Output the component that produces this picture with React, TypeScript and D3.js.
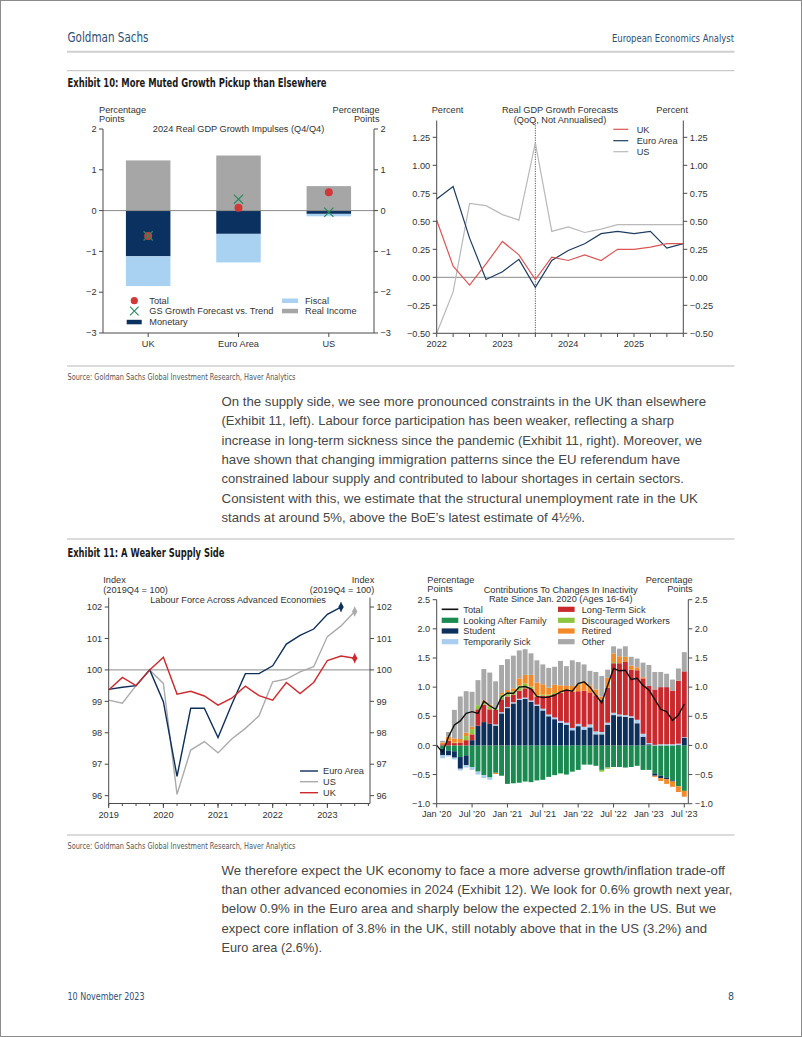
import React from 'react';
import * as d3 from 'd3';

const CHART_FONT = "'Liberation Sans', Arial, Helvetica, sans-serif";
const COND_FONT = "'Liberation Sans Narrow', 'DejaVu Sans Condensed', 'Liberation Sans', sans-serif";
const GS_BLUE = '#2f4f75';
const AXIS = '#4a4a4a';
const TXT = '#333';
const FS = 9.2;

// ---------------- Exhibit 10 (left): 2024 growth impulses ----------------
const impulseCountries = ['UK', 'Euro Area', 'US'];
const impulseRealIncome = [1.23, 1.35, 0.6];
const impulseMonetary = [-1.12, -0.57, -0.08];
const impulseFiscal = [-0.73, -0.7, -0.06];
const impulseTotal = [-0.62, 0.07, 0.45];
const impulseGsVsTrend = [-0.62, 0.28, -0.04];
const impulseTicks = [-3, -2, -1, 0, 1, 2];

// ---------------- Exhibit 10 (right): QoQ GDP forecasts ----------------
const gdpQuarters = ['2022Q1', '2022Q2', '2022Q3', '2022Q4', '2023Q1', '2023Q2', '2023Q3', '2023Q4',
  '2024Q1', '2024Q2', '2024Q3', '2024Q4', '2025Q1', '2025Q2', '2025Q3', '2025Q4'];
const gdpUK = [0.51, 0.10, -0.07, 0.12, 0.32, 0.20, -0.02, 0.18, 0.15, 0.20, 0.15, 0.25, 0.25, 0.27, 0.30, 0.30];
const gdpEA = [0.70, 0.81, 0.35, -0.02, 0.05, 0.16, -0.09, 0.15, 0.24, 0.30, 0.39, 0.41, 0.39, 0.41, 0.26, 0.30];
const gdpUS = [-0.50, -0.13, 0.66, 0.64, 0.56, 0.51, 1.20, 0.41, 0.45, 0.40, 0.43, 0.47, 0.47, 0.47, 0.47, 0.47];
const gdpTicks = [-0.5, -0.25, 0, 0.25, 0.5, 0.75, 1.0, 1.25];
const gdpYears = [2022, 2023, 2024, 2025];
const gdpForecastStart = '2023Q3';

// ---------------- Exhibit 11 (left): labour force ----------------
const lfQuarters = ['2019Q1', '2019Q2', '2019Q3', '2019Q4', '2020Q1', '2020Q2', '2020Q3', '2020Q4',
  '2021Q1', '2021Q2', '2021Q3', '2021Q4', '2022Q1', '2022Q2', '2022Q3', '2022Q4', '2023Q1', '2023Q2', '2023Q3'];
const lfEuroArea = [99.38, 99.45, 99.5, 100.0, 98.99, 96.61, 98.78, 98.78, 97.85, 98.9, 99.88, 99.88, 100.13, 100.82, 101.1, 101.3, 101.77, 102.0, null];
const lfUS = [99.04, 98.94, 99.5, 100.0, 99.57, 96.04, 97.45, 97.72, 97.36, 97.8, 98.14, 98.54, 99.62, 99.71, 99.94, 100.1, 101.06, 101.4, 101.86];
const lfUK = [99.36, 99.76, 99.5, 100.0, 100.4, 99.23, 99.32, 99.17, 98.88, 99.1, 99.48, 99.18, 99.04, 99.6, 99.25, 99.6, 100.3, 100.44, 100.37];
const lfTicks = [96, 97, 98, 99, 100, 101, 102];
const lfYears = [2019, 2020, 2021, 2022, 2023];

// ---------------- Exhibit 11 (right): inactivity contributions ----------------
const inactMonths = d3.timeMonths(new Date(2020, 0, 1), new Date(2023, 7, 1));
const inactFamily = [0, -0.06, -0.09, -0.1, -0.2, -0.17, -0.37, -0.45, -0.51, -0.55, -0.47, -0.52, -0.66, -0.65, -0.64, -0.62, -0.63, -0.6, -0.59, -0.54, -0.51, -0.48, -0.5, -0.45, -0.42, -0.33, -0.33, -0.35, -0.42, -0.38, -0.37, -0.37, -0.38, -0.37, -0.35, -0.42, -0.42, -0.48, -0.52, -0.55, -0.6, -0.7, -0.78];
const inactStudent = [0, -0.11, -0.08, -0.11, -0.2, -0.17, 0.09, 0.34, 0.40, 0.37, 0.34, 0.55, 0.64, 0.72, 0.78, 0.80, 0.75, 0.68, 0.60, 0.50, 0.45, 0.39, 0.35, 0.26, 0.33, 0.27, 0.31, 0.19, 0.19, 0.35, 0.52, 0.50, 0.49, 0.47, 0.38, 0.15, 0.02, -0.04, -0.04, -0.03, -0.02, 0.01, 0.13];
const inactTempSick = [0, -0.05, -0.02, -0.03, -0.03, -0.04, -0.05, -0.05, -0.05, -0.04, 0.02, 0.02, 0.02, 0.02, 0.02, 0.02, 0.02, 0.02, 0.03, 0.03, 0.03, 0.03, 0.04, 0.04, 0.04, 0.05, 0.05, 0.05, 0.04, 0.04, 0.04, 0.03, 0.03, 0.03, 0.06, 0.05, 0.02, 0.01, 0.02, 0.02, 0.02, 0.02, 0.01];
const inactLongTermSick = [0, 0.02, 0.08, 0.04, 0.05, 0.09, 0.10, 0.28, 0.30, 0.25, 0.25, 0.22, 0.18, 0.13, 0.14, 0.16, 0.20, 0.14, 0.22, 0.32, 0.40, 0.48, 0.55, 0.62, 0.56, 0.62, 0.55, 0.62, 0.55, 0.60, 0.85, 0.88, 0.92, 0.80, 0.85, 0.95, 0.98, 0.95, 0.98, 0.98, 0.92, 1.08, 1.13];
const inactDiscouraged = [0, 0, 0, 0.01, 0, 0.07, 0.09, 0.07, 0.03, 0.05, 0.02, 0.08, 0.07, 0.06, 0.09, 0.08, 0.04, 0.02, 0.02, 0.02, 0.02, 0.01, 0, 0, 0, 0, 0, 0, -0.03, -0.02, 0.02, 0, 0, 0, 0, 0, 0, 0, 0, 0, 0, 0, 0];
const inactRetired = [0, 0.03, 0.07, 0.07, 0.06, 0.06, 0.04, 0, 0.04, 0.03, -0.02, 0.03, 0.04, 0.05, 0.12, 0.15, 0.20, 0.22, 0.18, 0.12, 0.14, 0.12, 0.08, 0.10, 0.12, 0.15, 0.12, 0.10, 0.06, 0.17, 0.15, 0.12, 0.08, 0.07, 0.05, 0.02, 0, -0.02, -0.05, -0.08, -0.09, -0.1, -0.1];
const inactOther = [0, 0.03, 0.08, 0.49, 0.73, 0.71, 0.6, 0.43, 0.54, 0.55, 0.47, 0.48, 0.53, 0.56, 0.48, 0.44, 0.37, 0.38, 0.34, 0.34, 0.31, 0.42, 0.34, 0.44, 0.38, 0.30, 0.25, 0.30, 0.35, 0.14, 0.12, 0.13, 0.18, 0.15, 0.15, 0.25, 0.36, 0.30, 0.26, 0.23, 0.19, 0.21, 0.33];
const inactTotal = [0, -0.12, 0.15, 0.35, 0.42, 0.55, 0.58, 0.55, 0.76, 0.68, 0.62, 0.83, 0.90, 0.89, 1.00, 1.01, 0.97, 0.84, 0.82, 0.83, 0.86, 0.92, 0.95, 0.93, 1.06, 1.09, 1.00, 0.86, 0.73, 1.03, 1.32, 1.28, 1.29, 1.13, 1.15, 1.03, 0.95, 0.79, 0.62, 0.58, 0.43, 0.52, 0.71];
const inactTicks = [-1.0, -0.5, 0, 0.5, 1.0, 1.5, 2.0, 2.5];
const inactTickLabels = ['Jan \u201920', 'Jul \u201920', 'Jan \u201921', 'Jul \u201921', 'Jan \u201922', 'Jul \u201922', 'Jan \u201923', 'Jul \u201923'];

// ---------------- Page text ----------------
const para1 = [
  'On the supply side, we see more pronounced constraints in the UK than elsewhere',
  '(Exhibit 11, left). Labour force participation has been weaker, reflecting a sharp',
  'increase in long-term sickness since the pandemic (Exhibit 11, right). Moreover, we',
  'have shown that changing immigration patterns since the EU referendum have',
  'constrained labour supply and contributed to labour shortages in certain sectors.',
  'Consistent with this, we estimate that the structural unemployment rate in the UK',
  'stands at around 5%, above the BoE\u2019s latest estimate of 4\u00bd%.',
];
const para1Ends = [706, 674, 702, 680, 684, 698, 585];
const para2 = [
  'We therefore expect the UK economy to face a more adverse growth/inflation trade-off',
  'than other advanced economies in 2024 (Exhibit 12). We look for 0.6% growth next year,',
  'below 0.9% in the Euro area and sharply below the expected 2.1% in the US. But we',
  'expect core inflation of 3.8% in the UK, still notably above that in the US (3.2%) and',
  'Euro area (2.6%).',
];
const para2Ends = [725, 732.5, 716, 707, 322];
const sourceText = 'Source: Goldman Sachs Global Investment Research, Haver Analytics';

const qToYear = (q: string) => +q.slice(0, 4) + (+q.slice(5) - 1) / 4;

function YAxis({ y, ticks, x, side, fmt, y0, y1 }: any) {
  const dir = side === 'left' ? -1 : 1;
  return (
    <g>
      <line x1={x} x2={x} y1={y0} y2={y1} stroke={AXIS} strokeWidth={1} />
      {ticks.map((t: number) => (
        <g key={t}>
          <line x1={x} x2={x + dir * 4} y1={y(t)} y2={y(t)} stroke={AXIS} />
          <text x={x + dir * 6.5} y={y(t)} dy="0.35em" textAnchor={side === 'left' ? 'end' : 'start'}
            fontSize={FS} fill={TXT}>{fmt(t)}</text>
        </g>
      ))}
    </g>
  );
}

function Ex10Left() {
  const x = d3.scalePoint<string>().domain(impulseCountries).range([103, 374]).padding(0.5);
  const y = d3.scaleLinear().domain([-3, 2]).range([333, 129]);
  const bw = 44.5;
  const rows = impulseCountries.map((c, i) => ({
    country: c, realIncome: impulseRealIncome[i], monetary: impulseMonetary[i], fiscal: impulseFiscal[i],
  }));
  const keys = ['realIncome', 'monetary', 'fiscal'];
  const colors: any = { realIncome: '#a6a6a6', monetary: '#0b3161', fiscal: '#a9d1f1' };
  const stack = d3.stack<any>().keys(keys).offset(d3.stackOffsetDiverging)(rows);
  const fmt = d3.format('d');
  const cross = (cx: number, cy: number, s: number) => `M${cx - s},${cy - s}L${cx + s},${cy + s}M${cx - s},${cy + s}L${cx + s},${cy - s}`;
  return (
    <g>
      {stack.map((s: any) => s.map((d: any, i: number) => (
        <rect key={s.key + i} x={x(rows[i].country)! - bw / 2} y={y(Math.max(d[0], d[1]))}
          width={bw} height={Math.abs(y(d[0]) - y(d[1]))} fill={colors[s.key]} />
      )))}
      <line x1={103} x2={374} y1={y(0)} y2={y(0)} stroke="#8a8a8a" strokeWidth={1} />
      {impulseCountries.map((c, i) => (
        <g key={c}>
          <circle cx={x(c)} cy={y(impulseTotal[i])} r={4} fill="#d2383a" />
          <path d={cross(x(c)!, y(impulseGsVsTrend[i]), 4.6)} stroke="#2a8a5e" strokeWidth={1.2} fill="none" />
        </g>
      ))}
      <YAxis y={y} ticks={impulseTicks} x={103} side="left" fmt={fmt} y0={129} y1={333} />
      <YAxis y={y} ticks={impulseTicks} x={374} side="right" fmt={fmt} y0={129} y1={333} />
      <line x1={103} x2={374} y1={333} y2={333} stroke={AXIS} />
      {impulseCountries.map(c => (
        <g key={c}>
          <line x1={x(c)} x2={x(c)} y1={333} y2={337} stroke={AXIS} />
          <text x={x(c)} y={346.5} textAnchor="middle" fontSize={FS} fill={TXT}>{c}</text>
        </g>
      ))}
      <text x={99} y={112.5} fontSize={FS} fill={TXT}>Percentage</text>
      <text x={99} y={121.5} fontSize={FS} fill={TXT}>Points</text>
      <text x={379.5} y={112.5} fontSize={FS} fill={TXT} textAnchor="end">Percentage</text>
      <text x={379.5} y={121.5} fontSize={FS} fill={TXT} textAnchor="end">Points</text>
      <text x={238.5} y={132} fontSize={FS} fill={TXT} textAnchor="middle">2024 Real GDP Growth Impulses (Q4/Q4)</text>
      {/* legend */}
      <circle cx={134.3} cy={300.7} r={3.6} fill="#d2383a" />
      <text x={149.3} y={300.7} dy="0.35em" fontSize={FS} fill={TXT}>Total</text>
      <path d={cross(134.3, 311, 4.3)} stroke="#2a8a5e" strokeWidth={1.1} fill="none" />
      <text x={149.3} y={311} dy="0.35em" fontSize={FS} fill={TXT}>GS Growth Forecast vs. Trend</text>
      <rect x={126.7} y={319.8} width={15} height={4.5} fill={colors.monetary} />
      <text x={149.3} y={322} dy="0.35em" fontSize={FS} fill={TXT}>Monetary</text>
      <rect x={282} y={298.5} width={16} height={4.5} fill={colors.fiscal} />
      <text x={305} y={300.7} dy="0.35em" fontSize={FS} fill={TXT}>Fiscal</text>
      <rect x={282} y={308.8} width={16} height={4.5} fill={colors.realIncome} />
      <text x={305} y={311} dy="0.35em" fontSize={FS} fill={TXT}>Real Income</text>
    </g>
  );
}

function Ex10Right() {
  const x = d3.scaleLinear().domain([2022, 2025.75]).range([436.7, 683.3]);
  const y = d3.scaleLinear().domain([-0.5, 1.4]).range([333.3, 120.5]);
  const xs = gdpQuarters.map(qToYear);
  const line = d3.line<number>().x((_, i) => x(xs[i])).y(d => y(d));
  const fmt = d3.format('.2f');
  const series = [
    { name: 'UK', data: gdpUK, color: '#dc5556' },
    { name: 'Euro Area', data: gdpEA, color: '#1d3c60' },
    { name: 'US', data: gdpUS, color: '#b9b9b9' },
  ];
  const fx = x(qToYear(gdpForecastStart));
  return (
    <g>
      <line x1={436.7} x2={683.3} y1={y(0)} y2={y(0)} stroke="#8a8a8a" />
      <line x1={fx} x2={fx} y1={y(1.4)} y2={y(-0.5)} stroke="#555" strokeWidth={1} strokeDasharray="1.2,1.2" />
      {[...series].reverse().map(s => (
        <path key={s.name} d={line(s.data)!} fill="none" stroke={s.color} strokeWidth={1.2} />
      ))}
      <YAxis y={y} ticks={gdpTicks} x={436.7} side="left" fmt={fmt} y0={y(1.4)} y1={y(-0.5)} />
      <YAxis y={y} ticks={gdpTicks} x={683.3} side="right" fmt={fmt} y0={y(1.4)} y1={y(-0.5)} />
      <line x1={436.7} x2={683.3} y1={333.3} y2={333.3} stroke={AXIS} />
      {xs.map(v => <line key={v} x1={x(v)} x2={x(v)} y1={333.3} y2={337} stroke={AXIS} />)}
      {gdpYears.map(v => (
        <text key={v} x={x(v)} y={346.5} textAnchor="middle" fontSize={FS} fill={TXT}>{v}</text>
      ))}
      <text x={431.7} y={112.5} fontSize={FS} fill={TXT}>Percent</text>
      <text x={688} y={112.5} fontSize={FS} fill={TXT} textAnchor="end">Percent</text>
      <text x={560} y={112.5} fontSize={FS} fill={TXT} textAnchor="middle">Real GDP Growth Forecasts</text>
      <text x={560} y={122.5} fontSize={FS} fill={TXT} textAnchor="middle">(QoQ, Not Annualised)</text>
      {series.map((s, i) => {
        const ly = [129.3, 140.7, 151.7][i];
        return (
          <g key={s.name}>
            <line x1={613.3} x2={628.3} y1={ly} y2={ly} stroke={s.color} strokeWidth={1.2} />
            <text x={636.7} y={ly} dy="0.35em" fontSize={FS} fill={TXT}>{s.name}</text>
          </g>
        );
      })}
    </g>
  );
}

function Ex11Left() {
  const x = d3.scaleLinear().domain([2019, 2023.78]).range([108.7, 370]);
  const y = d3.scaleLinear().domain([95.75, 102.3]).range([803.5, 597.6]);
  const xs = lfQuarters.map(qToYear);
  const line = d3.line<number | null>().defined(d => d != null).x((_, i) => x(xs[i])).y(d => y(d as number));
  const fmt = d3.format('d');
  const series = [
    { name: 'Euro Area', data: lfEuroArea, color: '#0e2f5a' },
    { name: 'US', data: lfUS, color: '#ababab' },
    { name: 'UK', data: lfUK, color: '#cc2a2f' },
  ];
  const diamond = d3.symbol(d3.symbolDiamond, 26)()!;
  const minorTicks = d3.range(0, 20).map(i => 2019 + i / 4);
  return (
    <g>
      <line x1={108.7} x2={370} y1={y(100)} y2={y(100)} stroke="#8a8a8a" />
      {[series[1], series[0], series[2]].map(s => {
        let li = s.data.length - 1;
        while (s.data[li] == null) li--;
        const px = x(xs[li]);
        const py = y(s.data[li] as number);
        return (
          <g key={s.name}>
            <path d={line(s.data as any)!} fill="none" stroke={s.color} strokeWidth={1.4} />
            <line x1={px} x2={px} y1={py - 5} y2={py + 5} stroke={s.color} strokeWidth={0.8} />
            <path d={diamond} transform={`translate(${px},${py})`} fill={s.color} />
          </g>
        );
      })}
      <YAxis y={y} ticks={lfTicks} x={108.7} side="left" fmt={fmt} y0={597.6} y1={803.5} />
      <YAxis y={y} ticks={lfTicks} x={370} side="right" fmt={fmt} y0={597.6} y1={803.5} />
      <line x1={108.7} x2={370} y1={803.5} y2={803.5} stroke={AXIS} />
      {minorTicks.map(v => <line key={v} x1={x(v)} x2={x(v)} y1={803.5} y2={806} stroke={AXIS} />)}
      {lfYears.map(v => (
        <g key={v}>
          <line x1={x(v)} x2={x(v)} y1={803.5} y2={808} stroke={AXIS} />
          <text x={x(v)} y={818} textAnchor="middle" fontSize={FS} fill={TXT}>{v}</text>
        </g>
      ))}
      <text x={103.3} y={583} fontSize={FS} fill={TXT}>Index</text>
      <text x={103.3} y={592.5} fontSize={FS} fill={TXT}>(2019Q4 = 100)</text>
      <text x={374.3} y={583} fontSize={FS} fill={TXT} textAnchor="end">Index</text>
      <text x={374.3} y={592.5} fontSize={FS} fill={TXT} textAnchor="end">(2019Q4 = 100)</text>
      <text x={238} y={602.5} fontSize={FS} fill={TXT} textAnchor="middle">Labour Force Across Advanced Economies</text>
      {series.map((s, i) => {
        const ly = [771, 781.7, 792.7][i];
        return (
          <g key={s.name}>
            <line x1={300} x2={318} y1={ly} y2={ly} stroke={s.color} strokeWidth={1.4} />
            <text x={323} y={ly} dy="0.35em" fontSize={FS} fill={TXT}>{s.name}</text>
          </g>
        );
      })}
    </g>
  );
}

function Ex11Right() {
  const n = inactMonths.length;
  const x = d3.scaleLinear().domain([0, n - 1 + 0.68]).range([436.7, 688.3]);
  const y = d3.scaleLinear().domain([-1, 2.5]).range([803.7, 599.7]);
  const bw = 4.9;
  const rows = inactMonths.map((m, i) => ({
    family: inactFamily[i], student: inactStudent[i], tempSick: inactTempSick[i],
    longTermSick: inactLongTermSick[i], discouraged: inactDiscouraged[i], retired: inactRetired[i], other: inactOther[i],
  }));
  const keys = ['family', 'student', 'tempSick', 'longTermSick', 'discouraged', 'retired', 'other'];
  const colors: any = {
    family: '#1b8a50', student: '#0c2f5b', tempSick: '#a9cdef', longTermSick: '#c9282d',
    discouraged: '#8cc63e', retired: '#f28a2a', other: '#a8a8a8',
  };
  const stack = d3.stack<any>().keys(keys).offset(d3.stackOffsetDiverging)(rows);
  const line = d3.line<number>().x((_, i) => x(i)).y(d => y(d));
  const fmt = d3.format('.1f');
  const legendL = [
    { k: 'total', label: 'Total' }, { k: 'family', label: 'Looking After Family' },
    { k: 'student', label: 'Student' }, { k: 'tempSick', label: 'Temporarily Sick' },
  ];
  const legendR = [
    { k: 'longTermSick', label: 'Long-Term Sick' }, { k: 'discouraged', label: 'Discouraged Workers' },
    { k: 'retired', label: 'Retired' }, { k: 'other', label: 'Other' },
  ];
  const ly = [609.3, 620.3, 631, 641.7];
  return (
    <g>
      {stack.map((s: any) => s.map((d: any, i: number) => {
        const h = Math.abs(y(d[0]) - y(d[1]));
        if (h < 0.01) return null;
        return (
          <rect key={s.key + i} x={x(i) - bw / 2} y={y(Math.max(d[0], d[1]))} width={bw} height={h} fill={colors[s.key]} />
        );
      }))}
      <path d={line(inactTotal)!} fill="none" stroke="#111" strokeWidth={1.4} />
      <YAxis y={y} ticks={inactTicks} x={436.7} side="left" fmt={fmt} y0={599.7} y1={803.7} />
      <YAxis y={y} ticks={inactTicks} x={688.3} side="right" fmt={fmt} y0={599.7} y1={803.7} />
      <line x1={436.7} x2={688.3} y1={803.7} y2={803.7} stroke={AXIS} />
      {inactTickLabels.map((t, i) => (
        <g key={t}>
          <line x1={x(i * 6)} x2={x(i * 6)} y1={803.7} y2={807.5} stroke={AXIS} />
          <text x={x(i * 6)} y={816.5} textAnchor="middle" fontSize={FS} fill={TXT}>{t}</text>
        </g>
      ))}
      <text x={427.3} y={583} fontSize={FS} fill={TXT}>Percentage</text>
      <text x={427.3} y={592} fontSize={FS} fill={TXT}>Points</text>
      <text x={692.7} y={583} fontSize={FS} fill={TXT} textAnchor="end">Percentage</text>
      <text x={692.7} y={592} fontSize={FS} fill={TXT} textAnchor="end">Points</text>
      <text x={560.7} y={593} fontSize={FS} fill={TXT} textAnchor="middle">Contributions To Changes In Inactivity</text>
      <text x={560.7} y={602.3} fontSize={FS} fill={TXT} textAnchor="middle">Rate Since Jan. 2020 (Ages 16-64)</text>
      {legendL.map((l, i) => (
        <g key={l.k}>
          {l.k === 'total'
            ? <line x1={441.7} x2={458.3} y1={ly[i]} y2={ly[i]} stroke="#111" strokeWidth={1.6} />
            : <rect x={441.7} y={ly[i] - 2.6} width={16.6} height={5.2} fill={colors[l.k]} />}
          <text x={463.3} y={ly[i]} dy="0.35em" fontSize={FS} fill={TXT}>{l.label}</text>
        </g>
      ))}
      {legendR.map((l, i) => (
        <g key={l.k}>
          <rect x={558} y={ly[i] - 2.6} width={16.6} height={5.2} fill={colors[l.k]} />
          <text x={581.7} y={ly[i]} dy="0.35em" fontSize={FS} fill={TXT}>{l.label}</text>
        </g>
      ))}
    </g>
  );
}

function PageText() {
  const rule = (yy: number, w = 1.2, c = '#b8b8b8') => <line x1={67} x2={734.5} y1={yy} y2={yy} stroke={c} strokeWidth={w} />;
  return (
    <g>
      <text x={67.5} y={41.5} fontFamily={COND_FONT} fontSize={14} fill={GS_BLUE} textLength={81} lengthAdjust="spacingAndGlyphs">Goldman Sachs</text>
      <text x={612} y={41.5} fontFamily={COND_FONT} fontSize={10.5} fill={GS_BLUE} textLength={122} lengthAdjust="spacingAndGlyphs">European Economics Analyst</text>
      {rule(51.7, 2, '#cfcfcf')}
      {rule(70.7, 1, '#bdbdbd')}
      <text x={67.5} y={87.3} fontFamily={COND_FONT} fontSize={11.5} fontWeight="bold" fill="#1a1a1a" textLength={259} lengthAdjust="spacingAndGlyphs">Exhibit 10: More Muted Growth Pickup than Elsewhere</text>
      {rule(366)}
      <text x={67.5} y={379.5} fontFamily={COND_FONT} fontSize={8} fill="#555" textLength={228} lengthAdjust="spacingAndGlyphs">{sourceText}</text>
      {para1.map((t, i) => (
        <text key={i} x={221.5} y={405.6 + i * 19.45} fontFamily={CHART_FONT} fontSize={13} fill="#474747"
          textLength={para1Ends[i] - 221.5} lengthAdjust="spacingAndGlyphs">{t}</text>
      ))}
      {rule(539)}
      <text x={67.5} y={557} fontFamily={COND_FONT} fontSize={11.5} fontWeight="bold" fill="#1a1a1a" textLength={157} lengthAdjust="spacingAndGlyphs">Exhibit 11: A Weaker Supply Side</text>
      {rule(835)}
      <text x={67.5} y={848.5} fontFamily={COND_FONT} fontSize={8} fill="#555" textLength={228} lengthAdjust="spacingAndGlyphs">{sourceText}</text>
      {para2.map((t, i) => (
        <text key={i} x={221.5} y={874.6 + i * 19.4} fontFamily={CHART_FONT} fontSize={13} fill="#474747"
          textLength={para2Ends[i] - 221.5} lengthAdjust="spacingAndGlyphs">{t}</text>
      ))}
      <text x={67.5} y={999.5} fontFamily={COND_FONT} fontSize={10.5} fill={GS_BLUE} textLength={77} lengthAdjust="spacingAndGlyphs">10 November 2023</text>
      <text x={734} y={999.5} fontFamily={COND_FONT} fontSize={10.5} fill={GS_BLUE} textAnchor="end">8</text>
    </g>
  );
}

export default function App() {
  return (
    <svg width={802} height={1037} viewBox="0 0 802 1037" fontFamily={CHART_FONT}
      style={{ position: 'absolute', left: 0, top: 0, display: 'block', background: '#fff' }}>
      <rect x={0} y={0} width={802} height={1037} fill="#fff" />
      <rect x={0.5} y={0.5} width={801} height={1036} fill="none" stroke="#8c8c8c" strokeWidth={1} />
      <PageText />
      <Ex10Left />
      <Ex10Right />
      <Ex11Left />
      <Ex11Right />
    </svg>
  );
}
